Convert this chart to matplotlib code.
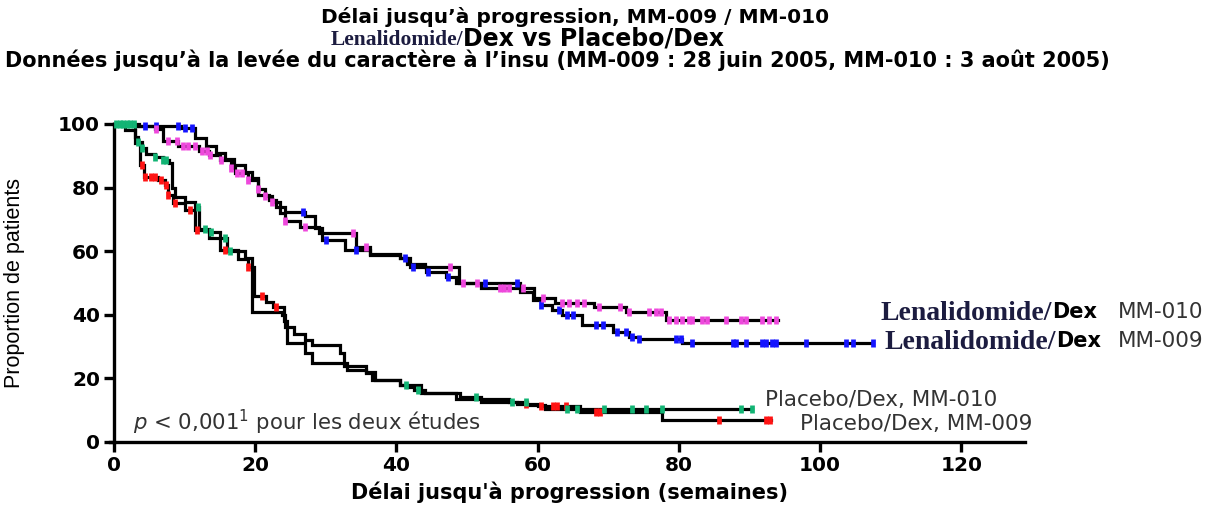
import numpy as np
import matplotlib
matplotlib.use("Agg")
import matplotlib.pyplot as plt

# ---------------- data ----------------
# Kaplan-Meier steps: times (weeks) and proportion (%) after each step
len009_t = [0, 2.5, 9.5, 11.5, 13, 14.5, 15.7, 17, 18.5, 19.5, 20.4, 22, 23, 24.2, 27, 28.4,
            29.5, 32.7, 36.2, 40.5, 41.9, 44.2, 47, 48.5, 57.5, 59.3, 60.5, 62, 63.5, 66.3,
            70.6, 73, 74.4, 80.5, 107.5]
len009_s = [100, 99.3, 98.7, 95.6, 93, 91, 89, 87, 85, 83, 77.7, 76, 74, 72.3, 71, 67.3,
            63.5, 60.4, 58.8, 57.9, 55, 53.5, 52, 50, 47, 44.7, 43, 41.5, 40, 36.8,
            34.6, 33, 32.3, 31, 31]
len009_c = [4.4, 6, 9, 10, 11, 26.8, 30, 34.3, 41.2, 42.3, 44.5, 47.3, 52.5, 57, 60.5, 63,
            64.2, 65, 68.3, 69.2, 71.3, 72.5, 73.4, 74.4, 79.6, 80.3, 81.9, 87.6, 88.1, 89.5,
            91.8, 92.4, 93.2, 93.8, 98, 103.7, 104.7, 107.5]

len010_t = [0, 3.5, 5.8, 7, 9, 12, 13.5, 15, 16.6, 17.2, 19, 20.4, 21.4, 22.3, 23.5, 24.2,
            26.3, 29, 34.3, 36.2, 40.5, 41.5, 44, 48.8, 52, 59.5, 62.5, 68, 72.5, 78.2, 94]
len010_s = [100, 99.3, 98.5, 94.5, 93.2, 91.5, 90.3, 88.7, 86, 84.5, 82.5, 79.5, 77.5, 75.5,
            72, 69.5, 67.5, 65.7, 61.3, 59, 57.9, 56, 55, 50, 48.4, 45.3, 43.7, 42.5, 41,
            38.5, 38.5]
len010_c = [6, 7.7, 8.9, 9.8, 10.5, 11.5, 12.4, 13.1, 13.6, 15.2, 16.6, 17.4, 18.1, 19,
            20.4, 21.4, 22.3, 24.2, 27, 33.8, 35.7, 47.6, 49.4, 51.4, 54.6, 55.3, 56, 57.9,
            60.7, 63.5, 64.5, 65.5, 66.5, 68.7, 71.6, 73, 75.8, 76.8, 77.5, 78.6, 79.6, 80.5,
            81.5, 81.9, 83.3, 84, 86.7, 88.8, 89.5, 91.8, 92.8, 93.8]

pla009_t = [0, 1.5, 3, 3.7, 4.2, 6.2, 7.2, 7.6, 8.3, 10, 11.5, 13.5, 15, 17.5, 19, 19.8,
            21.5, 22.5, 24, 24.5, 27, 28, 33, 35.7, 36.6, 40.5, 43.5, 48.5, 52, 57,
            60, 66, 77.6, 93]
pla009_s = [100, 98, 94, 87, 83.4, 82.4, 80.8, 77.7, 75, 73, 66.7, 64, 60.4, 57.5, 55, 46,
            44, 42.5, 38, 31, 28, 24.8, 22.6, 21.7, 19.5, 18, 15.5, 13.5, 12.5, 12,
            11.3, 9.3, 7, 7]
pla009_c = [3.9, 4.4, 5.3, 5.8, 6.7, 7.4, 7.7, 8.6, 10.7, 11.7, 15.7, 19, 20.9, 23, 58.4,
            60.4, 62.2, 62.7, 64, 68.3, 68.8, 85.7, 92.4, 92.9]

pla010_t = [0, 3, 3.4, 3.9, 4.5, 5.8, 7, 7.8, 8.2, 8.6, 10, 11.5, 12, 13.5, 15, 16, 18.5,
            19.6, 23.8, 24.2, 25.5, 27, 28, 32, 32.5, 35.7, 37, 40.5, 41.5, 42.5, 44, 49,
            52, 56, 58.5, 61, 90.4]
pla010_s = [100, 96, 94.4, 92.4, 90.5, 89.7, 88.7, 87.6, 80, 77, 75.5, 74, 67, 66, 64, 60,
            58, 41, 40, 36, 34, 32, 30.5, 28, 24, 22, 19.5, 18, 17.4, 16.4, 15.5, 14.2,
            13.5, 12.5, 11.5, 10.3, 10.3]
pla010_c = [0.3, 0.8, 1.3, 1.8, 2.3, 2.8, 3.4, 3.9, 5.8, 7, 7.4, 11.9, 12.9, 13.8, 15.7, 16.4,
            41.3, 43, 51.3, 56.4, 58.4, 64.2, 65.6, 69.4, 73.4, 75.4, 77.6, 88.8, 90.4]

curves = [
    (len009_t, len009_s, len009_c, "#1414ff"),
    (len010_t, len010_s, len010_c, "#ee48dc"),
    (pla009_t, pla009_s, pla009_c, "#ff1414"),
    (pla010_t, pla010_s, pla010_c, "#12b474"),
]

x_ticks = [0, 20, 40, 60, 80, 100, 120]
y_ticks = [0, 20, 40, 60, 80, 100]

title1 = "Délai jusqu’à progression, MM-009 / MM-010"
title2a = "Lenalidomide/"
title2b = "Dex vs Placebo/Dex"
title3 = "Données jusqu’à la levée du caractère à l’insu (MM-009 : 28 juin 2005, MM-010 : 3 août 2005)"
xlabel = "Délai jusqu'à progression (semaines)"
ylabel = "Proportion de patients"

wide = "DejaVu Sans"
sans = "Liberation Sans"
serif = "Liberation Serif"
navy = "#1c1c40"
grey = "#333333"

# ---------------- figure ----------------
fig = plt.figure(figsize=(12.16, 5.08), dpi=100)
ax = fig.add_axes([0.0938, 0.130, 0.749, 0.626])

def level_at(ts, ss, t):
    i = np.searchsorted(np.asarray(ts), t, side="right") - 1
    return np.asarray(ss)[np.clip(i, 0, len(ss) - 1)]

for ts, ss, cs, col in curves:
    ax.step(ts, ss, where="post", color="black", lw=2.3, zorder=3,
            solid_joinstyle="miter", clip_on=False)
    cs = np.asarray(cs)
    ax.plot(cs, level_at(ts, ss, cs), ls="none", marker="|", ms=5.5, mew=3.4,
            color=col, zorder=4, clip_on=False)

ax.set_xlim(0, 129)
ax.set_ylim(0, 100)
ax.set_xticks(x_ticks)
ax.set_yticks(y_ticks)
for s in ["top", "right"]:
    ax.spines[s].set_visible(False)
for s in ["left", "bottom"]:
    ax.spines[s].set_linewidth(2.4)
ax.spines["bottom"].set_bounds(-0.6, 129)
ax.tick_params(axis="both", direction="out", length=7, width=2.4, pad=3)
for lab in ax.get_xticklabels() + ax.get_yticklabels():
    lab.set_fontfamily(wide)
    lab.set_fontweight("bold")
    lab.set_fontsize(14.5)
ax.set_xlabel(xlabel, fontfamily=wide, fontweight="bold", fontsize=15, labelpad=5)
ax.set_ylabel(ylabel, fontfamily=sans, fontsize=15.5)
ax.yaxis.set_label_coords(-0.098, 0.5)

# titles
fig.text(0.473, 0.966, title1, ha="center", va="center", fontfamily=wide,
         fontweight="bold", fontsize=14.5)
fig.text(0.381, 0.922, title2a, ha="right", va="center", fontfamily=serif,
         fontweight="bold", fontsize=15.5, color=navy)
fig.text(0.381, 0.925, title2b, ha="left", va="center", fontfamily=wide,
         fontweight="bold", fontsize=17)
fig.text(0.458, 0.882, title3, ha="center", va="center", fontfamily=wide,
         fontweight="bold", fontsize=15)

# right-hand curve labels
for ypx, xsplit, study in [(312, 1052, "MM-010"), (341, 1056, "MM-009")]:
    yf = 1 - ypx / 508
    fig.text(xsplit / 1216, yf - 0.003, title2a, ha="right", va="center",
             fontfamily=serif, fontweight="bold", fontsize=20, color=navy)
    fig.text(xsplit / 1216, yf, "Dex", ha="left", va="center", fontfamily=wide,
             fontweight="bold", fontsize=15)
    fig.text(1118 / 1216, yf, study, ha="left", va="center", fontfamily=wide,
             fontsize=15.5, color=grey)

fig.text(765 / 1216, 1 - 400 / 508, "Placebo/Dex, MM-010", ha="left", va="center",
         fontfamily=wide, fontsize=15.5, color=grey)
fig.text(800 / 1216, 1 - 424 / 508, "Placebo/Dex, MM-009", ha="left", va="center",
         fontfamily=wide, fontsize=15.5, color=grey)

fig.text(133 / 1216, 1 - 422 / 508,
         r"$\it{p}$ < 0,001$^{\mathregular{1}}$ pour les deux études",
         ha="left", va="center", fontfamily=wide, fontsize=15.3, color=grey)

fig.savefig("out.png", dpi=100)
